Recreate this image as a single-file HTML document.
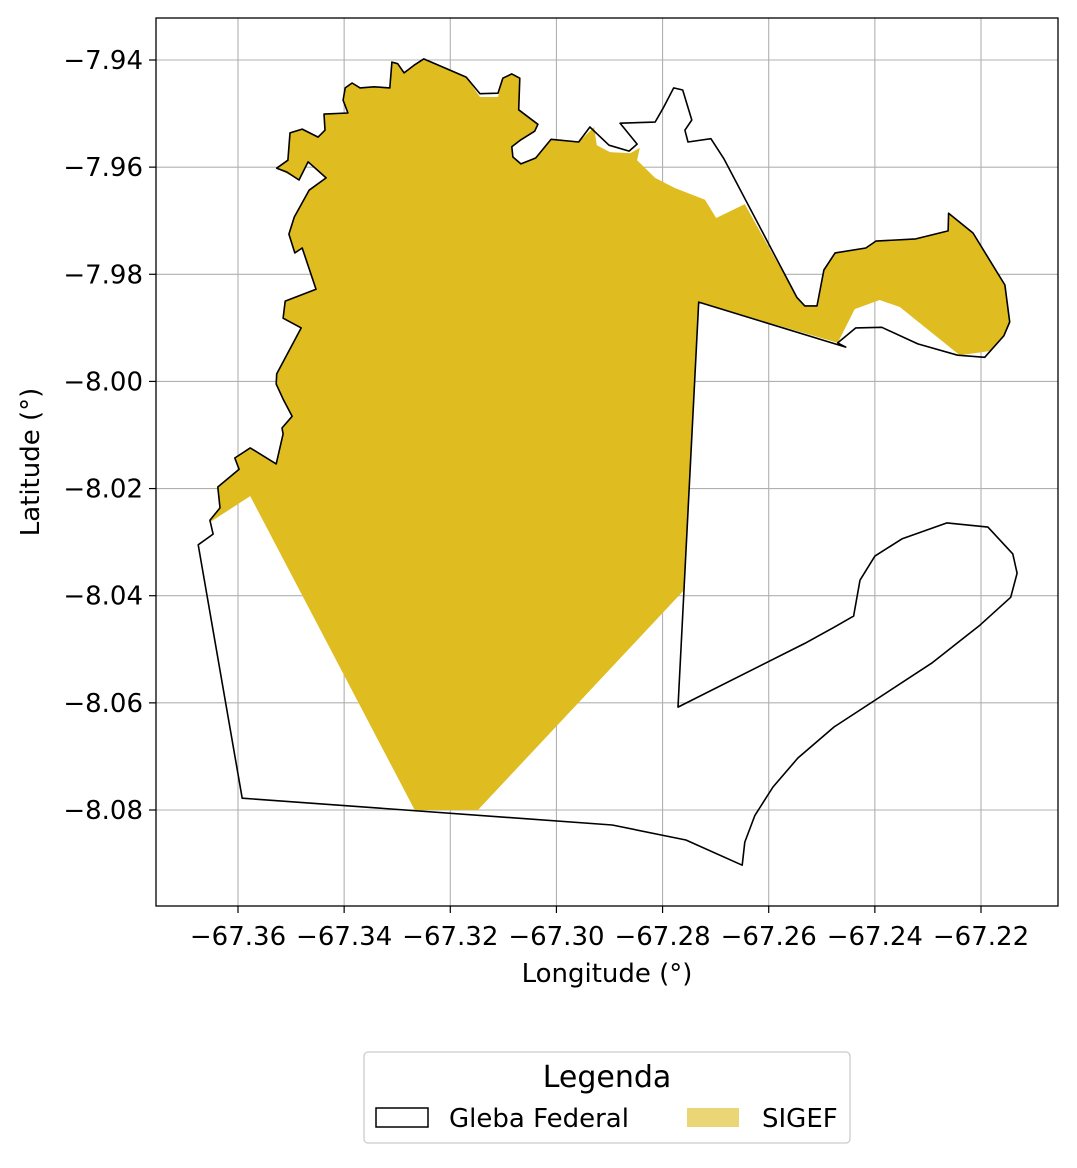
<!DOCTYPE html>
<html><head><meta charset="utf-8">
<style>
body{margin:0;background:#fff;}
svg text{font-family:"DejaVu Sans","Liberation Sans",sans-serif;fill:#000;}
</style></head>
<body>
<svg id="chart" width="1077" height="1163" xmlns="http://www.w3.org/2000/svg">
<rect x="0" y="0" width="1077" height="1163" fill="#fff"/>
<g id="grid"></g>
<g id="polys"></g>
<rect x="156" y="18" width="902" height="888" fill="none" stroke="#000" stroke-width="1.3"/>
<g id="ticks"></g>
<text x="607" y="982" font-size="26" text-anchor="middle">Longitude (°)</text>
<text x="39" y="462" font-size="26" text-anchor="middle" transform="rotate(-90 39 462)">Latitude (°)</text>
<g>
<rect x="364" y="1052" width="486" height="91" rx="4" fill="#fff" stroke="#ccc" stroke-width="1.3"/>
<text x="607" y="1087" font-size="30" text-anchor="middle">Legenda</text>
<rect x="376" y="1108" width="52" height="19" fill="none" stroke="#000" stroke-width="1.5"/>
<text x="449" y="1127" font-size="26">Gleba Federal</text>
<rect x="687" y="1108" width="52" height="19" fill="#ebd676"/>
<text x="762" y="1127" font-size="26">SIGEF</text>
</g>
</svg>
<script>
const xTicks=[-67.36,-67.34,-67.32,-67.30,-67.28,-67.26,-67.24,-67.22];
const yTicks=[-7.94,-7.96,-7.98,-8.00,-8.02,-8.04,-8.06,-8.08];
const glebaLon=[-67.3527,-67.3506,-67.3502,-67.3479,-67.3449,-67.3436,-67.3438,-67.3393,-67.3402,-67.3398,-67.3385,-67.3370,-67.3344,-67.3314,-67.3310,-67.3299,-67.3287,-67.3267,-67.3250,-67.3210,-67.3170,-67.3144,-67.3110,-67.3101,-67.3084,-67.3069,-67.3071,-67.3035,-67.3041,-67.3067,-67.3084,-67.3082,-67.3067,-67.3039,-67.3010,-67.2958,-67.2937,-67.2901,-67.2863,-67.2848,-67.2880,-67.2814,-67.2799,-67.2779,-67.2762,-67.2745,-67.2758,-67.2752,-67.2709,-67.2684,-67.2547,-67.2532,-67.2509,-67.2496,-67.2475,-67.2417,-67.2398,-67.2323,-67.2262,-67.2261,-67.2215,-67.2155,-67.2146,-67.2157,-67.2193,-67.2244,-67.2319,-67.2387,-67.2436,-67.2470,-67.2455,-67.2732,-67.2771,-67.2532,-67.2477,-67.2440,-67.2428,-67.2400,-67.2349,-67.2264,-67.2187,-67.2140,-67.2132,-67.2144,-67.2202,-67.2293,-67.2477,-67.2545,-67.2592,-67.2626,-67.2645,-67.2650,-67.2756,-67.2895,-67.3592,-67.3675,-67.3647,-67.3653,-67.3634,-67.3638,-67.3598,-67.3606,-67.3577,-67.3528,-67.3515,-67.3517,-67.3498,-67.3515,-67.3528,-67.3527,-67.3481,-67.3515,-67.3511,-67.3453,-67.3479,-67.3493,-67.3504,-67.3494,-67.3466,-67.3434,-67.3468,-67.3485,-67.3508];
const glebaLat=[-7.9602,-7.9587,-7.9536,-7.9529,-7.9544,-7.9531,-7.9501,-7.9499,-7.9475,-7.9452,-7.9443,-7.9452,-7.9450,-7.9452,-7.9404,-7.9407,-7.9424,-7.9409,-7.9398,-7.9415,-7.9432,-7.9463,-7.9462,-7.9434,-7.9426,-7.9434,-7.9493,-7.9520,-7.9533,-7.9549,-7.9562,-7.9581,-7.9594,-7.9583,-7.9548,-7.9553,-7.9525,-7.9559,-7.9570,-7.9557,-7.9518,-7.9516,-7.9490,-7.9452,-7.9456,-7.9512,-7.9531,-7.9553,-7.9547,-7.9585,-7.9843,-7.9859,-7.9859,-7.9792,-7.9760,-7.9751,-7.9738,-7.9734,-7.9719,-7.9686,-7.9723,-7.9820,-7.9889,-7.9915,-7.9955,-7.9951,-7.9930,-7.9899,-7.9900,-7.9928,-7.9936,-7.9852,-8.0608,-8.0489,-8.0459,-8.0438,-8.0371,-8.0326,-8.0294,-8.0264,-8.0272,-8.0322,-8.0358,-8.0403,-8.0455,-8.0526,-8.0645,-8.0703,-8.0757,-8.0810,-8.0860,-8.0903,-8.0856,-8.0828,-8.0778,-8.0305,-8.0285,-8.0259,-8.0236,-8.0197,-8.0164,-8.0143,-8.0124,-8.0154,-8.0098,-8.0087,-8.0065,-8.0033,-8.0005,-7.9986,-7.9900,-7.9882,-7.9850,-7.9828,-7.9751,-7.9760,-7.9725,-7.9693,-7.9643,-7.9620,-7.9590,-7.9624,-7.9609];
const sigefLon=[-67.3653,-67.3577,-67.3267,-67.3148,-67.2760,-67.2732,-67.2470,-67.2438,-67.2391,-67.2353,-67.2240,-67.2181,-67.2157,-67.2146,-67.2155,-67.2215,-67.2261,-67.2262,-67.2323,-67.2398,-67.2417,-67.2475,-67.2496,-67.2509,-67.2532,-67.2547,-67.2645,-67.2699,-67.2720,-67.2743,-67.2777,-67.2814,-67.2848,-67.2843,-67.2861,-67.2899,-67.2924,-67.2929,-67.2958,-67.3010,-67.3039,-67.3067,-67.3082,-67.3084,-67.3067,-67.3041,-67.3035,-67.3071,-67.3069,-67.3084,-67.3101,-67.3110,-67.3144,-67.3170,-67.3210,-67.3250,-67.3267,-67.3287,-67.3299,-67.3310,-67.3314,-67.3344,-67.3370,-67.3385,-67.3398,-67.3402,-67.3393,-67.3438,-67.3436,-67.3449,-67.3479,-67.3502,-67.3506,-67.3527,-67.3485,-67.3468,-67.3434,-67.3466,-67.3494,-67.3504,-67.3493,-67.3479,-67.3453,-67.3511,-67.3515,-67.3481,-67.3527,-67.3528,-67.3515,-67.3498,-67.3517,-67.3515,-67.3528,-67.3577,-67.3606,-67.3598,-67.3638,-67.3634,-67.3653];
const sigefLat=[-8.0263,-8.0214,-8.0800,-8.0800,-8.0390,-7.9852,-7.9928,-7.9865,-7.9848,-7.9861,-7.9951,-7.9943,-7.9915,-7.9889,-7.9820,-7.9723,-7.9686,-7.9719,-7.9734,-7.9738,-7.9751,-7.9760,-7.9792,-7.9859,-7.9859,-7.9843,-7.9669,-7.9695,-7.9661,-7.9652,-7.9639,-7.9620,-7.9587,-7.9564,-7.9574,-7.9572,-7.9559,-7.9525,-7.9553,-7.9548,-7.9583,-7.9594,-7.9581,-7.9562,-7.9549,-7.9533,-7.9520,-7.9493,-7.9434,-7.9426,-7.9434,-7.9469,-7.9469,-7.9432,-7.9415,-7.9398,-7.9409,-7.9424,-7.9407,-7.9404,-7.9452,-7.9450,-7.9452,-7.9443,-7.9452,-7.9475,-7.9499,-7.9501,-7.9531,-7.9544,-7.9529,-7.9536,-7.9587,-7.9602,-7.9624,-7.9590,-7.9620,-7.9643,-7.9693,-7.9725,-7.9760,-7.9751,-7.9828,-7.9850,-7.9882,-7.9900,-7.9986,-8.0005,-8.0033,-8.0065,-8.0087,-8.0098,-8.0154,-8.0124,-8.0143,-8.0164,-8.0197,-8.0236,-8.0259];

const NS='http://www.w3.org/2000/svg';
function xS(v){return 238+(v-(-67.36))*(743/0.14);}
function yS(v){return 60+((-7.94)-v)*(750/0.14);}
function mk(tag,attrs,parent){const e=document.createElementNS(NS,tag);for(const k in attrs)e.setAttribute(k,attrs[k]);parent.appendChild(e);return e;}
const grid=document.getElementById('grid'),ticks=document.getElementById('ticks'),polys=document.getElementById('polys');
function fmt(v){return (v<0?'\u2212':'')+Math.abs(v).toFixed(2);}
xTicks.forEach(t=>{
  const x=xS(t);
  const g=mk('line',{x1:x,x2:x,y1:18,y2:906,stroke:'#b0b0b0','stroke-width':1.1},grid);
  
  
  const tk=mk('line',{x1:x,x2:x,y1:906,y2:913,stroke:'#000','stroke-width':1.2},ticks);
  
  
  const tx=mk('text',{x:x,y:945,'font-size':26,'text-anchor':'middle'},ticks);
  tx.textContent=fmt(t);
  
  
});
yTicks.forEach(t=>{
  const y=yS(t);
  const g=mk('line',{x1:156,x2:1058,y1:y,y2:y,stroke:'#b0b0b0','stroke-width':1.1},grid);
  
  
  const tk=mk('line',{x1:149,x2:156,y1:y,y2:y,stroke:'#000','stroke-width':1.2},ticks);
  
  
  const tx=mk('text',{x:143,y:y+9,'font-size':26,'text-anchor':'end'},ticks);
  tx.textContent=fmt(t);
  
  
});
function pathD(lons,lats){return lons.map((v,i)=>(i?'L':'M')+xS(v).toFixed(1)+' '+yS(lats[i]).toFixed(1)).join(' ')+' Z';}
const s=mk('path',{d:pathD(sigefLon,sigefLat),fill:'#dfbc1f',stroke:'none'},polys);


const g=mk('path',{d:pathD(glebaLon,glebaLat),fill:'none',stroke:'#000','stroke-width':1.6,'stroke-linejoin':'round'},polys);


</script>
</body></html>
